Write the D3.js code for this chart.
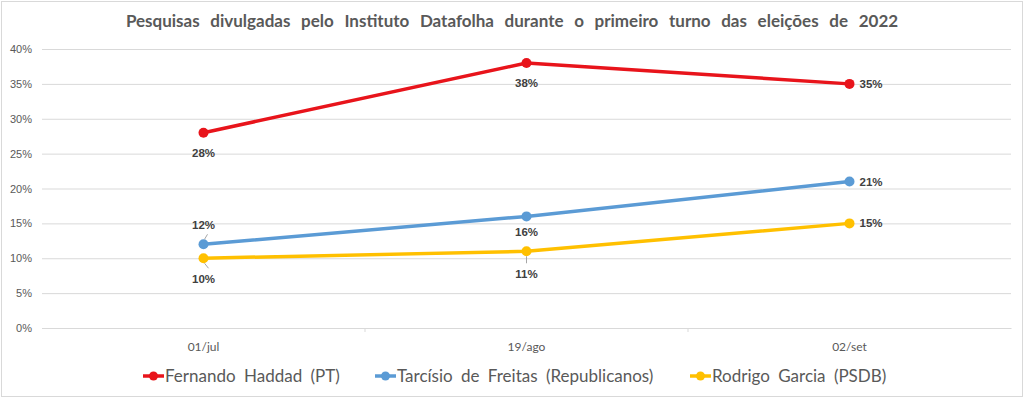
<!DOCTYPE html>
<html lang="pt">
<head>
    <meta charset="UTF-8">
    <title>Pesquisas Datafolha 2022</title>
    <script src="https://d3js.org/d3.v7.min.js"></script>
    <style>
        body { margin: 0; background: #fff; }
        svg text { fill: #595959; }
    </style>
</head>
<body>
    <div id="chart"></div>
    <script>
        const dates = ["01/jul", "19/ago", "02/set"];
        const yTicks = [0, 5, 10, 15, 20, 25, 30, 35, 40];
        const names = ["Fernando Haddad (PT)", "Tarcísio de Freitas (Republicanos)", "Rodrigo Garcia (PSDB)"];
        const haddad = [28, 38, 35];
        const tarcisio = [12, 16, 21];
        const garcia = [10, 11, 15];
        const colors = ["#E8141B", "#5B9BD5", "#FFC000"];
        // where each label sits relative to its point
        const labelPos = [
            ["below", "below", "right"],
            ["above", "below", "right"],
            ["below", "below", "right"]
        ];

        const width = 1024;
        const height = 399;
        const margin = { left: 42, right: 13, top: 49, bottom: 71 };

        const svg = d3.select("#chart").append("svg")
            .attr("width", width)
            .attr("height", height);

        // outer border
        svg.append("rect")
            .attr("x", 1.5).attr("y", 1.5)
            .attr("width", width - 3).attr("height", height - 4)
            .attr("fill", "#fff")
            .attr("stroke", "#d9d9d9");

        const x = d3.scaleBand()
            .domain(dates)
            .range([margin.left, width - margin.right]);

        const y = d3.scaleLinear()
            .domain([0, 40])
            .range([height - margin.bottom, margin.top]);

        // title
        svg.append("text")
            .attr("x", 512).attr("y", 27)
            .attr("text-anchor", "middle")
            .style("font-family", "Lato, 'Open Sans', sans-serif")
            .style("font-weight", "bold")
            .style("font-size", "17px")
            .style("word-spacing", "6.5px")
            .text("Pesquisas divulgadas pelo Instituto Datafolha durante o primeiro turno das eleições de 2022");

        // grid + y axis
        const yAxis = svg.append("g")
            .attr("transform", `translate(${margin.left},0)`)
            .call(d3.axisLeft(y)
                .tickValues(yTicks)
                .tickSize(-(width - margin.left - margin.right))
                .tickPadding(10)
                .tickFormat(d => d + "%"));
        yAxis.select(".domain").remove();
        yAxis.selectAll(".tick line").attr("stroke", "#d9d9d9");
        yAxis.selectAll(".tick text")
            .style("font-family", "'Liberation Sans', Arial, sans-serif")
            .style("font-size", "11px")
            .style("fill", "#595959");

        // x axis
        const xAxis = svg.append("g")
            .attr("transform", `translate(0,${y(0)})`)
            .call(d3.axisBottom(x).tickSize(0).tickPadding(14));
        xAxis.select(".domain").attr("stroke", "#d9d9d9");
        xAxis.selectAll(".tick text")
            .style("font-family", "Lato, 'Open Sans', sans-serif")
            .style("font-size", "12px")
            .style("fill", "#595959");
        // small category dividers
        svg.append("g").selectAll("line")
            .data(dates.slice(1))
            .join("line")
            .attr("x1", d => x(d)).attr("x2", d => x(d))
            .attr("y1", y(0)).attr("y2", y(0) + 4)
            .attr("stroke", "#d9d9d9");

        const series = [haddad, tarcisio, garcia];
        const cx = i => x(dates[i]) + x.bandwidth() / 2;
        const line = d3.line()
            .x((d, i) => cx(i))
            .y(d => y(d));

        // label offsets below the point, per series (pixels)
        const belowGap = [[24, 24], [20, 20], [25, 27]];

        series.forEach((vals, s) => {
            const g = svg.append("g");
            g.append("path")
                .datum(vals)
                .attr("d", line)
                .attr("fill", "none")
                .attr("stroke", colors[s])
                .attr("stroke-width", 3.5)
                .attr("stroke-linejoin", "round")
                .attr("stroke-linecap", "round");
            g.selectAll("circle")
                .data(vals)
                .join("circle")
                .attr("cx", (d, i) => cx(i))
                .attr("cy", d => y(d))
                .attr("r", 5)
                .attr("fill", colors[s]);

            g.selectAll("text")
                .data(vals)
                .join("text")
                .attr("x", (d, i) => labelPos[s][i] === "right" ? cx(i) + 10 : cx(i))
                .attr("y", (d, i) => {
                    const pos = labelPos[s][i];
                    if (pos === "above") return y(d) - 15;
                    if (pos === "below") return y(d) + belowGap[s][i];
                    return y(d) + 4;
                })
                .attr("text-anchor", (d, i) => labelPos[s][i] === "right" ? "start" : "middle")
                .style("font-family", "'Liberation Sans', Arial, sans-serif")
                .style("font-weight", "bold")
                .style("font-size", "11.5px")
                .style("fill", "#404040")
                .text(d => d + "%");
        });

        // leader lines for labels pushed away from their point
        const leaders = [
            { v: tarcisio[0], i: 0, dx1: 4, dy1: -10, dx2: 1, dy2: -5 },
            { v: garcia[0], i: 0, dx1: 1, dy1: 5, dx2: 5, dy2: 10 },
            { v: garcia[1], i: 1, dx1: 0, dy1: 5, dx2: 0, dy2: 12 }
        ];
        svg.append("g").selectAll("line")
            .data(leaders)
            .join("line")
            .attr("x1", d => cx(d.i) + d.dx1).attr("y1", d => y(d.v) + d.dy1)
            .attr("x2", d => cx(d.i) + d.dx2).attr("y2", d => y(d.v) + d.dy2)
            .attr("stroke", "#a6a6a6")
            .attr("stroke-width", 1);

        // legend
        const legendX = [143, 375, 690];
        const legend = svg.append("g").attr("transform", `translate(0,376)`);
        names.forEach((n, i) => {
            const item = legend.append("g").attr("transform", `translate(${legendX[i]},0)`);
            item.append("line")
                .attr("x1", 0).attr("x2", 21)
                .attr("stroke", colors[i]).attr("stroke-width", 3.5);
            item.append("circle")
                .attr("cx", 10.5).attr("r", 4.5)
                .attr("fill", colors[i]);
            item.append("text")
                .attr("x", 22).attr("y", 6)
                .style("font-family", "Lato, 'Open Sans', sans-serif")
                .style("font-size", "17px")
                .style("word-spacing", "4px")
                .text(n);
        });
    </script>
</body>
</html>
